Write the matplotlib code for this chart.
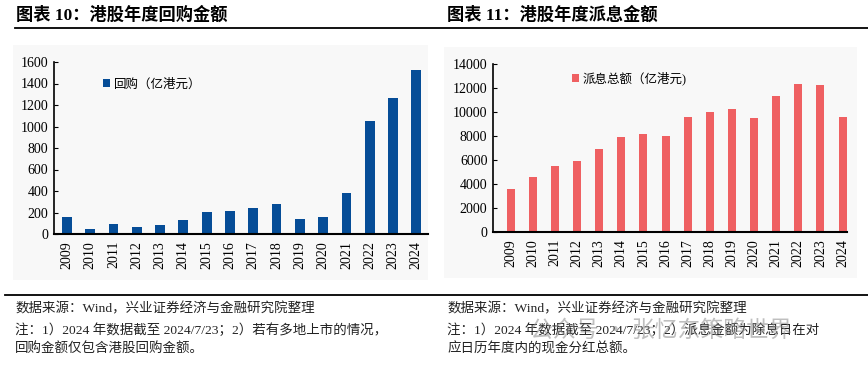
import matplotlib.pyplot as plt
from matplotlib.patches import Rectangle
from matplotlib.lines import Line2D

plt.rcParams['font.family'] = ['Liberation Serif', 'Noto Sans CJK SC']

# data
years = [str(y) for y in range(2009, 2025)]
buyback = [161, 43, 93, 62, 84, 130, 201, 214, 245, 276, 136, 158, 381, 1049, 1266, 1523]
dividend = [3620, 4560, 5480, 5900, 6900, 7880, 8150, 7990, 9570, 9990, 10210, 9490,
            11350, 12330, 12250, 9570]

blue = '#064D97'
red = '#EF6062'

fig = plt.figure(figsize=(8.68, 3.65), dpi=100)
W, H = 868, 365


def fx(px):
    return px / W


def fy(py):
    return 1 - py / H


# light panels behind the charts
for x0, x1, y0, y1 in [(13, 428, 45, 280), (444, 857, 47, 278)]:
    fig.patches.append(Rectangle((fx(x0), fy(y1)), fx(x1 - x0), fy(y0) - fy(y1),
                                 transform=fig.transFigure, facecolor='#F8F8F8',
                                 edgecolor='none', zorder=-10))

# rules under titles and above footers
fig.lines.append(Line2D([fx(15), 1], [fy(28), fy(28)], transform=fig.transFigure,
                        color='black', lw=1.3))
fig.lines.append(Line2D([fx(5), 1], [fy(295), fy(295)], transform=fig.transFigure,
                        color='black', lw=1.3))

fig.text(fx(16), fy(15), '图表 10：港股年度回购金额', fontsize=12.4, fontweight='bold', va='center')
fig.text(fx(447), fy(15), '图表 11：港股年度派息金额', fontsize=12.4, fontweight='bold', va='center')

foot_kw = dict(fontsize=9.7, va='center', color='#222222')
fig.text(fx(15), fy(309), '数据来源：Wind，兴业证券经济与金融研究院整理', **foot_kw)
fig.text(fx(15), fy(330), '注：1）2024 年数据截至 2024/7/23；2）若有多地上市的情况，', **foot_kw)
fig.text(fx(15), fy(349), '回购金额仅包含港股回购金额。', **foot_kw)
fig.text(fx(447), fy(309), '数据来源：Wind，兴业证券经济与金融研究院整理', **foot_kw)
fig.text(fx(447), fy(330), '注：1）2024 年数据截至 2024/7/23；2）派息金额为除息日在对', **foot_kw)
fig.text(fx(447), fy(349), '应日历年度内的现金分红总额。', **foot_kw)
# watermark
fig.text(fx(530), fy(330), '公众号 · 张忆东策略世界', fontsize=16.5, va='center',
         color='#8c8c8c', alpha=0.55, family=['Noto Sans CJK SC'])


def style(ax, top, step):
    ax.set_facecolor('none')
    for s in ('top', 'right'):
        ax.spines[s].set_visible(False)
    ax.spines['left'].set_linewidth(1.2)
    ax.spines['bottom'].set_linewidth(1.5)
    ax.set_ylim(0, top)
    ax.set_yticks(range(0, top + 1, step))
    ax.tick_params(axis='y', direction='in', length=3, labelsize=10, pad=4)
    ax.tick_params(axis='x', length=0, labelsize=10, rotation=90, pad=5)


ax1 = fig.add_axes([fx(54), fy(234), fx(428 - 54), fy(62) - fy(234)])
ax1.bar(years, buyback, width=0.42, color=blue, label='回购（亿港元）')
ax1.set_xlim(-0.55, 15.5)
style(ax1, 1600, 200)
ax1.legend(loc='upper left', bbox_to_anchor=(0.1, 0.97), frameon=False, fontsize=9,
           handlelength=0.6, handleheight=0.6, handletextpad=0.3)

ax2 = fig.add_axes([fx(493), fy(232), fx(847 - 493), fy(64) - fy(232)])
ax2.bar(years, dividend, width=0.36, color=red, label='派息总额（亿港元)')
ax2.set_xlim(-0.8, 15.2)
style(ax2, 14000, 2000)
ax2.legend(loc='upper left', bbox_to_anchor=(0.19, 1.02), frameon=False, fontsize=9,
           handlelength=0.6, handleheight=0.6, handletextpad=0.3)

fig.savefig('out.png', dpi=100)
